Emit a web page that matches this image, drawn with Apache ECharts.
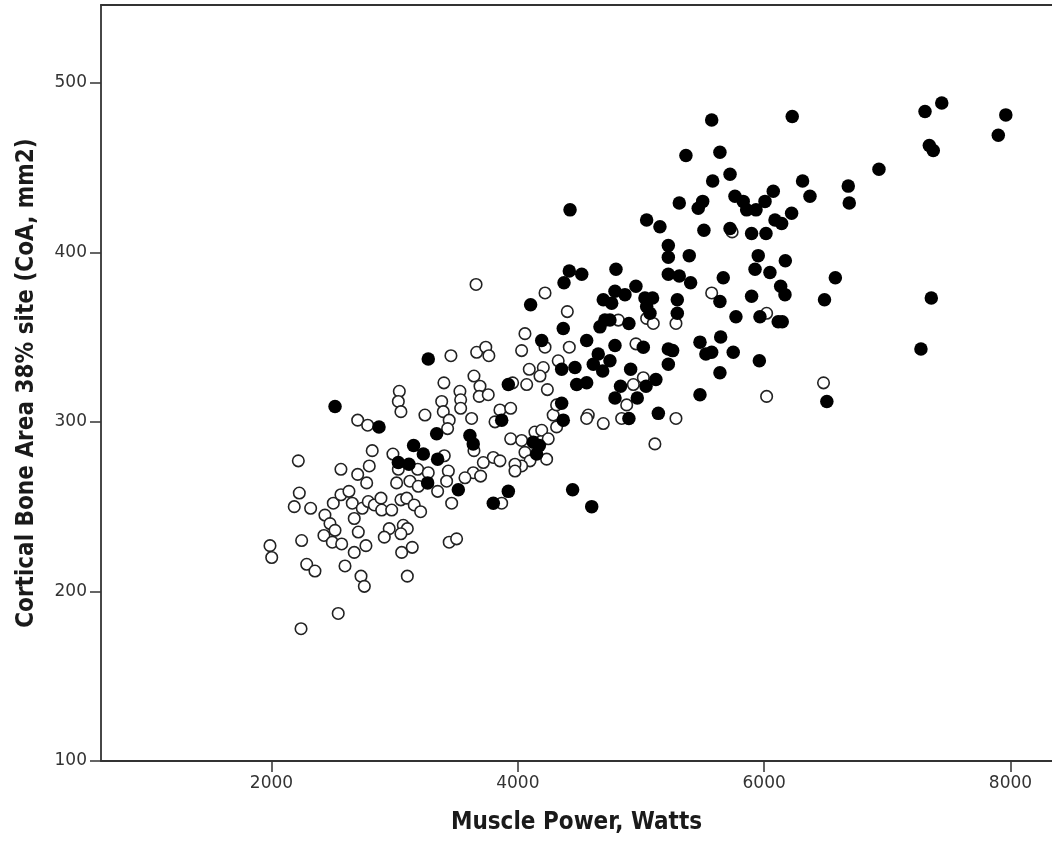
<!DOCTYPE html>
<html>
<head>
<meta charset="utf-8">
<script src="https://cdn.jsdelivr.net/npm/echarts@6/dist/echarts.min.js"></script>
<style>
html,body{margin:0;padding:0;background:#fff;}
#chart{width:1052px;height:841px;}
</style>
</head>
<body>
<div id="chart"></div>
<script>
// Open circles (group 1): [Muscle Power W, Cortical Bone Area mm2]
const openPoints = [
[2218,277],[2818,283],[2794,274],[2564,272],[2700,269],[2773,264],[2986,281],[3403,280],[3436,271],[3030,272],
[3187,272],[3273,270],[3124,265],[3016,264],[3192,262],[3349,259],[3422,265],[3463,252],[2226,258],[2185,250],
[2318,249],[2434,245],[2502,252],[2564,257],[2629,259],[2656,252],[2737,249],[2672,243],[2475,240],[2516,236],
[2426,233],[2494,229],[2570,228],[2705,235],[2672,223],[2767,227],[2597,215],[2727,209],[2754,203],[2786,253],
[2835,251],[2889,255],[2895,248],[2976,248],[3051,254],[3098,255],[3159,251],[3211,247],[3070,239],[3103,237],
[3051,234],[2956,237],[2916,232],[3143,226],[3057,223],[3103,209],[1988,227],[2002,220],[2245,230],[2286,216],
[2353,212],[2542,187],[2240,178],[3443,229],[3503,231],
[3457,339],[3400,323],[3038,318],[3030,312],[3051,306],[3246,304],[3382,312],[3395,306],[3443,301],[3430,296],
[2700,301],[2781,298],
[3661,381],[4221,376],[4402,365],[4058,352],[4221,344],[4418,344],[4031,342],[3666,341],[3740,344],[3765,339],
[4328,336],[4093,331],[4207,332],[4180,327],[4072,322],[4240,319],[3958,323],[3644,327],[3693,321],[3687,315],
[3760,316],[3530,318],[3536,313],[3536,308],[3625,302],[3855,307],[3942,308],[3815,300],[4287,304],[4315,310],
[4315,297],[4572,304],[4559,302],[4694,299],[3644,283],[3942,290],[4031,289],[4139,294],[4194,295],[4247,290],
[4058,282],[4099,277],[4234,278],[3801,279],[3855,277],[3720,276],[4031,274],[3977,275],[3977,271],[3638,270],
[3698,268],[3571,267],[3869,252],
[5284,358],[5574,376],[6020,364],[4816,360],[5046,361],[5100,358],[4959,346],[5019,326],[4938,322],[4884,310],
[6020,315],[4843,302],[5284,302],[5113,287],[5740,412],[6482,323]
];
// Filled circles (group 2)
const filledPoints = [
[3154,286],[3233,281],[3349,278],[3030,276],[3116,275],[3268,264],[3273,337],[2516,309],[3341,293],[2873,297],
[4375,382],[4418,389],[4519,387],[4104,369],[4369,355],[4559,348],[4194,348],[4356,331],[4464,332],[4478,322],
[4559,323],[3923,322],[3869,301],[4356,311],[4369,301],[3611,292],[3638,287],[4126,288],[4175,286],[4153,281],
[3517,260],[3923,259],[3801,252],[4445,260],[4600,250],[4424,425],[4653,340],[4613,334],
[5222,397],[5392,398],[5952,398],[4797,390],[5222,387],[5311,386],[5403,382],[5668,385],[5926,390],[6047,388],
[4959,380],[4789,377],[4870,375],[4694,372],[4762,370],[5032,373],[5094,373],[5046,368],[5073,364],[5295,372],
[5295,364],[5641,371],[5898,374],[5771,362],[5966,362],[6114,359],[4707,360],[4748,360],[4902,358],[4667,356],
[5019,344],[4789,345],[5222,343],[5257,342],[5479,347],[5647,350],[5749,341],[5527,340],[5574,341],[5961,336],
[5222,334],[5641,329],[4748,336],[4689,330],[4916,331],[5121,325],[4834,321],[5041,321],[4789,314],[4970,314],
[5479,316],[5141,305],[4902,302],
[5574,478],[5365,457],[5641,459],[5723,446],[5582,442],[5763,433],[5830,430],[6074,436],[6007,430],[5858,425],
[5934,425],[5311,429],[5501,430],[5465,426],[5046,419],[5154,415],[5511,413],[5723,414],[5898,411],[6015,411],
[6088,419],[5222,404],
[6228,480],[7306,483],[7442,488],[7962,481],[7901,469],[7341,463],[7373,460],[6932,449],[6312,442],[6372,433],
[6683,439],[6691,429],[6223,423],[6142,417],[6172,395],[6578,385],[6134,380],[6169,375],[6490,372],[7357,373],
[6147,359],[7273,343],[6509,312]
];
const xTicks = [2000, 4000, 6000, 8000];
const yTicks = [100, 200, 300, 400, 500];
const xTitle = 'Muscle Power, Watts';
const yTitle = 'Cortical Bone Area 38% site (CoA, mm2)';

const chart = echarts.init(document.getElementById('chart'), null, {renderer: 'canvas'});
const titleFont = '"DejaVu Sans Condensed", "Liberation Sans Narrow", sans-serif';
const labelFont = '"DejaVu Sans", sans-serif';
const axisCol = '#333';
const X_MIN = 616, X_MAX = 8337;
chart.setOption({
  animation: false,
  grid: {left: 101, top: 5, right: 0, bottom: 80, show: false, containLabel: false},
  xAxis: [{
    type: 'value', min: X_MIN, max: X_MAX,
    name: xTitle, nameLocation: 'middle', nameGap: 50,
    nameTextStyle: {fontFamily: titleFont, fontSize: 24, fontWeight: 'bold', color: '#1a1a1a'},
    axisLine: {show: true, onZero: false, lineStyle: {color: axisCol, width: 1.8}},
    axisTick: {show: true, inside: false, length: 11, customValues: xTicks, lineStyle: {color: axisCol, width: 1.5}},
    axisLabel: {customValues: xTicks, formatter: v => String(v), fontFamily: labelFont, fontSize: 17, color: '#333', margin: 14},
    splitLine: {show: false}
  }, {
    type: 'value', position: 'top', min: X_MIN, max: X_MAX,
    axisLine: {show: true, onZero: false, lineStyle: {color: axisCol, width: 1.8}},
    axisTick: {show: false}, axisLabel: {show: false}, splitLine: {show: false}
  }],
  yAxis: {
    type: 'value', min: 100, max: 545.8,
    name: yTitle, nameLocation: 'middle', nameGap: 62, nameRotate: 90,
    nameTextStyle: {fontFamily: titleFont, fontSize: 24, fontWeight: 'bold', color: '#1a1a1a'},
    axisLine: {show: true, onZero: false, lineStyle: {color: axisCol, width: 1.8}},
    axisTick: {show: true, inside: false, length: 11, customValues: yTicks, lineStyle: {color: axisCol, width: 1.5}},
    axisLabel: {customValues: yTicks, formatter: v => String(v), fontFamily: labelFont, fontSize: 17, color: '#333', margin: 14},
    splitLine: {show: false}
  },
  series: [
    {type: 'scatter', name: 'open', xAxisIndex: 0, data: openPoints, symbol: 'circle', symbolSize: 11.5,
     itemStyle: {color: '#fff', borderColor: '#222', borderWidth: 1.6, opacity: 1}},
    {type: 'scatter', name: 'filled', xAxisIndex: 0, data: filledPoints, symbol: 'circle', symbolSize: 13.5,
     itemStyle: {color: '#000', borderColor: '#000', borderWidth: 0, opacity: 1}}
  ]
});
</script>
</body>
</html>
